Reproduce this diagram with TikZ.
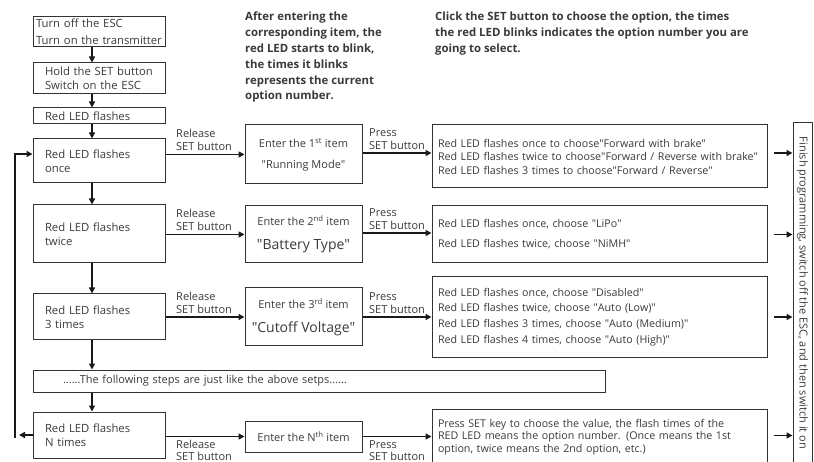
\documentclass[tikz,border=0pt]{standalone}
\usepackage{fontspec}
\setmainfont{Open Sans}
\usetikzlibrary{arrows.meta}
\definecolor{txt}{HTML}{3A3A3A}
\definecolor{lin}{HTML}{333333}
\newcommand\fLeft{\fontsize{11.3}{13.5}\selectfont}
\newcommand\fOpt{\fontsize{10.7}{13.5}\selectfont}
\newcommand\fLbl{\fontsize{11}{13.5}\selectfont}
\newcommand\fHdr{\fontsize{11.4}{15.8}\selectfont\bfseries}
\newcommand\fBig{\fontsize{14}{24}\selectfont}
\newcommand\qd{\textquotedbl}
\begin{document}
\begin{tikzpicture}[x=1pt,y=-1pt,
  box/.style={draw=lin, line width=1pt, text=txt, inner ysep=0pt, align=left},
  cbox/.style={draw=lin, line width=1pt, text=txt, inner ysep=0pt, inner xsep=0pt, align=center},
  arr/.style={draw=black!90, line width=1.8pt, -{Triangle[length=6pt,width=6pt]}},
  lbl/.style={text=txt, align=left, inner sep=0pt, font=\fLbl},
  hdr/.style={text=txt, align=left, inner sep=0pt, font=\fHdr}]
\useasboundingbox (0,0) rectangle (814,462);
\clip (0,0) rectangle (814,462);
% left column
\node[box, font=\fontsize{11.3}{17}\selectfont, minimum width=132, minimum height=30, inner xsep=3, text width=126] (b1) at (99,32) {Turn off the ESC\\Turn on the transmitter};
\node[box, font=\fLeft, minimum width=132, minimum height=31, inner xsep=12, text width=108] (b2) at (99,78.5) {Hold the SET button\\Switch on the ESC};
\node[box, font=\fLeft, minimum width=132, minimum height=16, inner xsep=12, text width=108] (b3) at (99,116) {Red LED flashes};
\node[box, font=\fLeft, minimum width=132, minimum height=44, inner xsep=12, text width=108] (b4) at (99,161) {Red LED flashes\\once};
\node[box, font=\fLeft, minimum width=132, minimum height=58, inner xsep=12, text width=108] (b5) at (99,234) {Red LED flashes\\twice};
\node[box, font=\fLeft, minimum width=132, minimum height=46, inner xsep=12, text width=108] (b6) at (99,317) {Red LED flashes\\3 times};
\node[box, font=\fontsize{11}{13.5}\selectfont, minimum width=572, minimum height=22, inner xsep=30, text width=512] (dots) at (319,381) {......The following steps are just like the above setps......};
\node[box, font=\fLeft, minimum width=132, minimum height=46, inner xsep=12, text width=108] (bN) at (99,435) {Red LED flashes\\N times};
% enter boxes
\node[cbox, font=\fontsize{11}{21}\selectfont, minimum width=117, minimum height=59] (e1) at (303.5,154.5) {Enter the 1\textsuperscript{st} item\\\qd Running Mode\qd};
\node[cbox, font=\fontsize{11}{24}\selectfont, minimum width=117, minimum height=57] (e2) at (303.5,234.5) {Enter the 2\textsuperscript{nd} item\\{\fBig\qd Battery Type\qd}};
\node[cbox, font=\fontsize{11}{24}\selectfont, minimum width=117, minimum height=58] (e3) at (303.5,317) {Enter the 3\textsuperscript{rd} item\\{\fBig\qd Cutoff Voltage\qd}};
\node[cbox, font=\fontsize{11}{13.5}\selectfont, minimum width=117, minimum height=31] (eN) at (303.5,436.5) {Enter the N\textsuperscript{th} item};
% option boxes
\node[box, font=\fOpt, minimum width=335, minimum height=63, inner xsep=6, text width=323] (o1) at (599.5,156.5) {Red LED flashes once to choose\qd Forward with brake\qd\\Red LED flashes twice to choose\qd Forward / Reverse with brake\qd\\Red LED flashes 3 times to choose\qd Forward / Reverse\qd};
\node[box, font=\fontsize{10.7}{20}\selectfont, minimum width=335, minimum height=57, inner xsep=6, text width=323] (o2) at (599.5,234.5) {Red LED flashes once, choose \qd LiPo\qd\\Red LED flashes twice, choose \qd NiMH\qd};
\node[box, font=\fontsize{10.7}{15.7}\selectfont, minimum width=335, minimum height=80, inner xsep=6, text width=323] (o3) at (599.5,317) {Red LED flashes once, choose \qd Disabled\qd\\Red LED flashes twice, choose \qd Auto (Low)\qd\\Red LED flashes 3 times, choose \qd Auto (Medium)\qd\\Red LED flashes 4 times, choose \qd Auto (High)\qd};
\node[box, font=\fontsize{10.7}{12.7}\selectfont, minimum width=335, minimum height=56, inner xsep=6, text width=323] (oN) at (599.5,437) {Press SET key to choose the value, the flash times of the\\RED LED means the option number. (Once means the 1st\\option, twice means the 2nd option, etc.)};
% finish box
\node[cbox, rotate=-90, font=\fontsize{11}{12}\selectfont, minimum width=340, minimum height=19] (fin) at (802.5,293) {Finish programming, switch off the ESC, and then switch it on};
% headers
\node[hdr, anchor=north west] (h1) at (245,12) {After entering the\\corresponding item, the\\red LED starts to blink,\\the times it blinks\\represents the current\\option number.};
\node[hdr, anchor=north west] (h2) at (435,12) {Click the SET button to choose the option, the times\\the red LED blinks indicates the option number you are\\going to select.};
% vertical arrows
\foreach \a/\b in {b1/b2,b2/b3,b3/b4,b4/b5,b5/b6}
  \draw[arr] ([xshift=-7pt]\a.south) -- ([xshift=-7pt]\b.north);
\draw[arr] ([xshift=-7pt]b6.south) -- ([xshift=-7pt]b6.south |- dots.north);
\draw[arr] ([xshift=-7pt]bN.north |- dots.south) -- ([xshift=-7pt]bN.north);
% release arrows
\draw[arr] (b4.east |- e1.west) -- (e1.west);
\draw[arr] (b5.east |- e2.west) -- (e2.west);
\draw[arr] (b6.east |- e3.west) -- (e3.west);
\draw[arr] (bN.east |- eN.west) -- (eN.west);
% press arrows
\draw[arr] ([yshift=1.5pt]e1.east) -- ([yshift=1.5pt]e1.east -| o1.west);
\draw[arr] ([yshift=1.5pt]e2.east) -- ([yshift=1.5pt]e2.east -| o2.west);
\draw[arr] (e3.east) -- (e3.east -| o3.west);
\draw[arr] (eN.east) -- (eN.east -| oN.west);
% finish arrows
\draw[arr, shorten <=6pt] ([yshift=3.5pt]o1.east) -- ([yshift=3.5pt]o1.east -| fin.south);
\draw[arr, shorten <=6pt] (o2.east) -- (o2.east -| fin.south);
\draw[arr, shorten <=6pt] (o3.east) -- (o3.east -| fin.south);
\draw[arr, shorten <=6pt] ([yshift=1.5pt]oN.east) -- ([yshift=1.5pt]oN.east -| fin.south);
% feedback loop
\coordinate (fbtop) at (15,154);
\coordinate (fbbot) at (15,438);
\coordinate (fbtip) at (19,435);
\draw[arr] (fbbot) -- (fbtop) -- (fbtop -| b4.west);
\draw[arr] (bN.west) -- (fbtip);
% labels
\node[lbl, anchor=south west] (r1) at (176,151) {Release\\SET button};
\node[lbl, anchor=south west] (r2) at (176,231) {Release\\SET button};
\node[lbl, anchor=south west] (r3) at (176,314) {Release\\SET button};
\node[lbl, anchor=south west, font=\fontsize{11}{12.5}\selectfont] (r4) at (176,461) {Release\\SET button};
\node[lbl, anchor=south west] (p1) at (369,150) {Press\\SET button};
\node[lbl, anchor=south west] (p2) at (369,230) {Press\\SET button};
\node[lbl, anchor=south west] (p3) at (369,314) {Press\\SET button};
\node[lbl, anchor=south west, font=\fontsize{11}{12.5}\selectfont] (p4) at (369,461) {Press\\SET button};
\end{tikzpicture}
\end{document}
